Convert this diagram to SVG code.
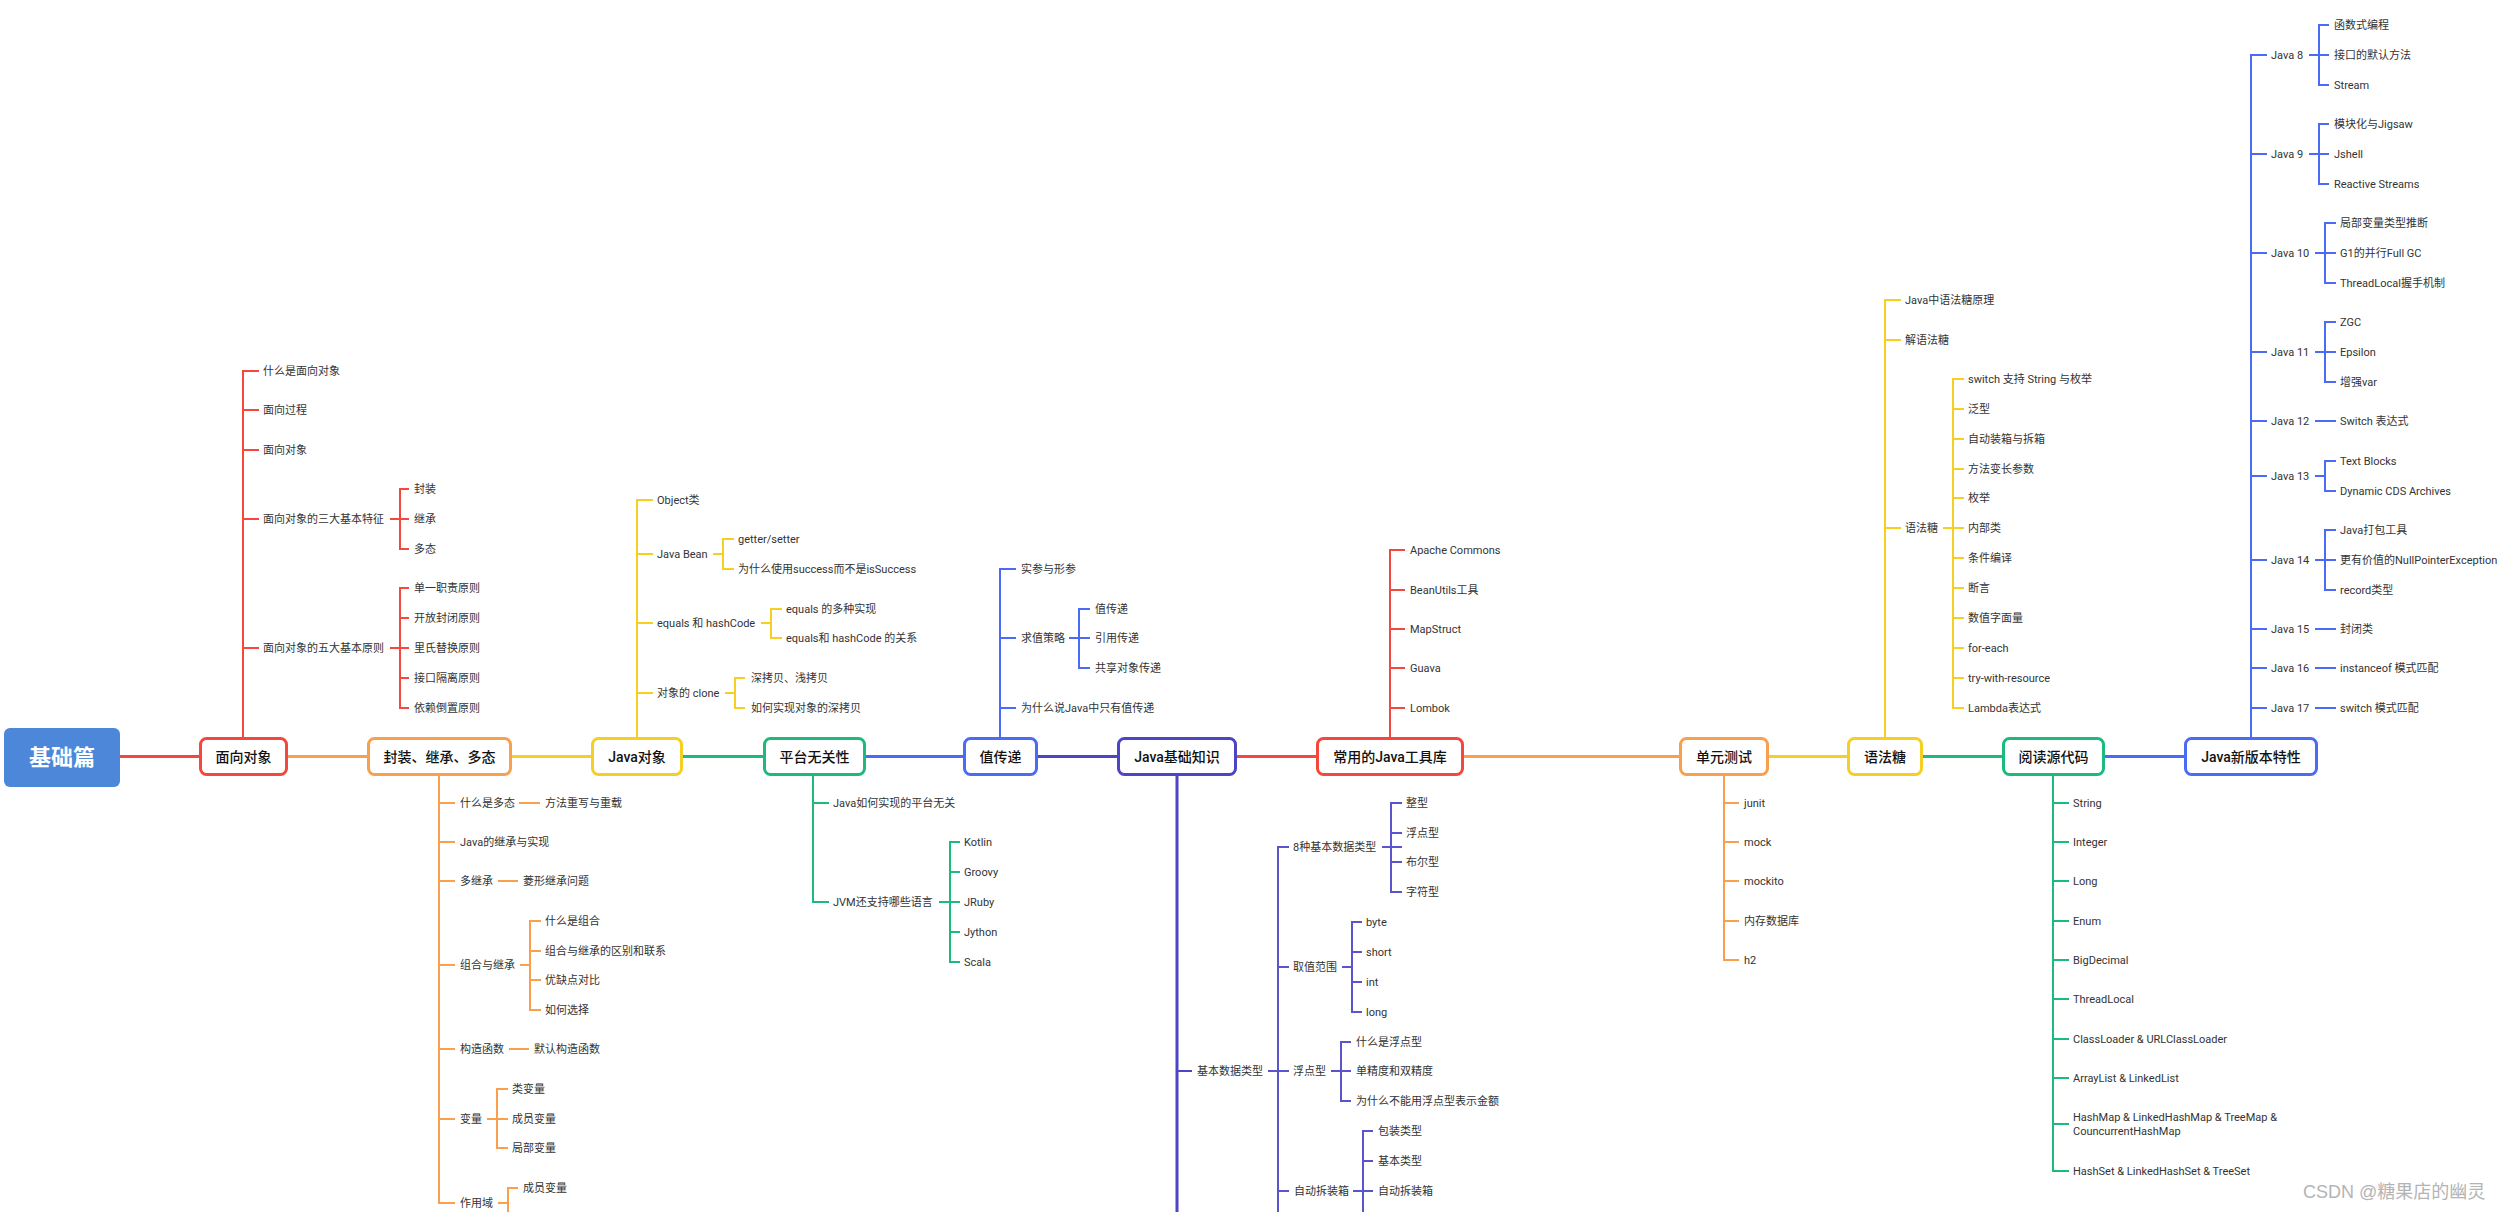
<svg xmlns="http://www.w3.org/2000/svg" width="2508" height="1212" viewBox="0 0 2508 1212">
<style>
.t{font-family:Roboto,"Noto Sans CJK SC",sans-serif;font-size:11px;fill:#333;dominant-baseline:central}
.n{font-family:Roboto,"Noto Sans CJK SC",sans-serif;font-size:14px;font-weight:500;fill:#111;dominant-baseline:central;text-anchor:middle}
.box{fill:#fff;stroke-width:3}
path,line{fill:none;stroke-width:2}
.sp{stroke-width:3}
.r{stroke:#F4473D}.o{stroke:#F8A04C}.y{stroke:#F5CF23}.g{stroke:#1CBB7D}.b{stroke:#4B6BF6}.p{stroke:#4D45C4}.p2{stroke:#5B54CC}
</style>
<rect width="2508" height="1212" fill="#fff"/>
<g id="connectors">
<path class="sp r" d="M120 756.5H199"/>
<path class="sp o" d="M288 756.5H367"/>
<path class="sp y" d="M512 756.5H591"/>
<path class="sp g" d="M683 756.5H763"/>
<path class="sp b" d="M866 756.5H963"/>
<path class="sp p" d="M1038 756.5H1117"/>
<path class="sp r" d="M1237 756.5H1316"/>
<path class="sp o" d="M1464 756.5H1679"/>
<path class="sp y" d="M1769 756.5H1847"/>
<path class="sp g" d="M1923 756.5H2002"/>
<path class="sp b" d="M2105 756.5H2184"/>
<path class="r" d="M243 737V371H259M243 410H259M243 450H259M243 519H259M243 648H259"/>
<path class="r" d="M390 519H409M409 489H400V549H409"/>
<path class="r" d="M390 648H409M409 588H400V708H409M400 618H409M400 678H409"/>
<path class="o" d="M439 776V1203H455M439 803H455M439 842H455M439 881H455M439 965H455M439 1049H455M439 1119H455"/>
<path class="o" d="M519 803H540M498 881H518M509 1049H529"/>
<path class="o" d="M520 965H530M541 921H530V1010H541M530 951H541M530 980H541"/>
<path class="o" d="M487 1119H508M508 1089H497V1148H508"/>
<path class="o" d="M498 1203H508M518 1188H508V1215"/>
<path class="y" d="M637 737V500H653M637 554H653M637 623H653M637 693H653"/>
<path class="y" d="M713 554H723M734 539H723V569H734"/>
<path class="y" d="M761 623H771M782 609H771V638H782"/>
<path class="y" d="M725 693H735M745 678H735V708H745"/>
<path class="g" d="M813 776V902H829M813 803H829"/>
<path class="g" d="M939 902H960M960 842H950V962H960M950 872H960M950 932H960"/>
<path class="b" d="M1000 737V569H1016M1000 638H1016M1000 708H1016"/>
<path class="b" d="M1069 638H1090M1090 609H1079V668H1090"/>
<path class="sp p" d="M1177 776V1215"/>
<path class="p" d="M1177 1071H1192"/>
<path class="p2" d="M1268 1071H1289M1289 847H1278V1215M1278 967H1289M1278 1191H1289"/>
<path class="p2" d="M1382 847H1402M1402 803H1391V892H1402M1391 833H1402M1391 862H1402"/>
<path class="p2" d="M1342 967H1352M1362 922H1352V1012H1362M1352 952H1362M1352 982H1362"/>
<path class="p2" d="M1331 1071H1351M1351 1042H1341V1101H1351"/>
<path class="p2" d="M1353 1191H1373M1373 1131H1363V1215M1363 1161H1373"/>
<path class="r" d="M1390 737V550H1405M1390 590H1405M1390 629H1405M1390 668H1405M1390 708H1405"/>
<path class="o" d="M1724 776V960H1739M1724 803H1739M1724 842H1739M1724 881H1739M1724 921H1739"/>
<path class="y" d="M1885 737V300H1901M1885 340H1901M1885 528H1901"/>
<path class="y" d="M1943 528H1964M1964 379H1953V708H1964M1953 409H1964M1953 439H1964M1953 469H1964M1953 498H1964M1953 558H1964M1953 588H1964M1953 618H1964M1953 648H1964M1953 678H1964"/>
<path class="g" d="M2053 776V1171H2069M2053 803H2069M2053 842H2069M2053 881H2069M2053 921H2069M2053 960H2069M2053 999H2069M2053 1039H2069M2053 1078H2069M2053 1124H2069"/>
<path class="b" d="M2251 737V55H2267M2251 154H2267M2251 253H2267M2251 352H2267M2251 421H2267M2251 476H2267M2251 560H2267M2251 629H2267M2251 668H2267M2251 708H2267"/>
<path class="b" d="M2309 55H2329M2329 25H2319V85H2329"/>
<path class="b" d="M2309 154H2329M2329 124H2319V184H2329"/>
<path class="b" d="M2315 253H2336M2336 223H2325V283H2336"/>
<path class="b" d="M2315 352H2336M2336 322H2325V382H2336"/>
<path class="b" d="M2315 421H2336"/>
<path class="b" d="M2315 476H2325M2336 461H2325V491H2336"/>
<path class="b" d="M2315 560H2336M2336 530H2325V590H2336"/>
<path class="b" d="M2315 629H2336M2315 668H2336M2315 708H2336"/>
</g>
<g id="root"><rect x="4" y="728" width="116" height="59" rx="6" fill="#4C87D9"/><text x="62" y="757.5" style="font-family:Roboto,'Noto Sans CJK SC',sans-serif;font-size:22px;font-weight:bold;fill:#fff;dominant-baseline:central;text-anchor:middle">基础篇</text></g>
<g id="oop"><rect class="box r" x="200.5" y="738.5" width="86" height="36" rx="6"/><text class="n" x="243.5" y="756.5">面向对象</text></g>
<g id="encap"><rect class="box o" x="368.5" y="738.5" width="142" height="36" rx="6"/><text class="n" x="439.5" y="756.5">封装、继承、多态</text></g>
<g id="javaobj"><rect class="box y" x="592.5" y="738.5" width="89" height="36" rx="6"/><text class="n" x="637" y="756.5">Java对象</text></g>
<g id="platform"><rect class="box g" x="764.5" y="738.5" width="100" height="36" rx="6"/><text class="n" x="814.5" y="756.5">平台无关性</text></g>
<g id="passval"><rect class="box b" x="964.5" y="738.5" width="72" height="36" rx="6"/><text class="n" x="1000.5" y="756.5">值传递</text></g>
<g id="basics"><rect class="box p" x="1118.5" y="738.5" width="117" height="36" rx="6"/><text class="n" x="1177" y="756.5">Java基础知识</text></g>
<g id="tools"><rect class="box r" x="1317.5" y="738.5" width="145" height="36" rx="6"/><text class="n" x="1390" y="756.5">常用的Java工具库</text></g>
<g id="unittest"><rect class="box o" x="1680.5" y="738.5" width="87" height="36" rx="6"/><text class="n" x="1724" y="756.5">单元测试</text></g>
<g id="sugar"><rect class="box y" x="1848.5" y="738.5" width="73" height="36" rx="6"/><text class="n" x="1885" y="756.5">语法糖</text></g>
<g id="source"><rect class="box g" x="2003.5" y="738.5" width="100" height="36" rx="6"/><text class="n" x="2053.5" y="756.5">阅读源代码</text></g>
<g id="newjava"><rect class="box b" x="2185.5" y="738.5" width="131" height="36" rx="6"/><text class="n" x="2251" y="756.5">Java新版本特性</text></g>
<g id="oop-1"><text class="t" x="263" y="371">什么是面向对象</text></g>
<g id="oop-2"><text class="t" x="263" y="410">面向过程</text></g>
<g id="oop-3"><text class="t" x="263" y="450">面向对象</text></g>
<g id="oop-4"><text class="t" x="263" y="519">面向对象的三大基本特征</text></g>
<g id="oop-4a"><text class="t" x="414" y="489">封装</text></g>
<g id="oop-4b"><text class="t" x="414" y="519">继承</text></g>
<g id="oop-4c"><text class="t" x="414" y="549">多态</text></g>
<g id="oop-5"><text class="t" x="263" y="648">面向对象的五大基本原则</text></g>
<g id="oop-5a"><text class="t" x="414" y="588">单一职责原则</text></g>
<g id="oop-5b"><text class="t" x="414" y="618">开放封闭原则</text></g>
<g id="oop-5c"><text class="t" x="414" y="648">里氏替换原则</text></g>
<g id="oop-5d"><text class="t" x="414" y="678">接口隔离原则</text></g>
<g id="oop-5e"><text class="t" x="414" y="708">依赖倒置原则</text></g>
<g id="enc-1"><text class="t" x="460" y="803">什么是多态</text></g>
<g id="enc-1a"><text class="t" x="545" y="803">方法重写与重载</text></g>
<g id="enc-2"><text class="t" x="460" y="842">Java的继承与实现</text></g>
<g id="enc-3"><text class="t" x="460" y="881">多继承</text></g>
<g id="enc-3a"><text class="t" x="523" y="881">菱形继承问题</text></g>
<g id="enc-4"><text class="t" x="460" y="965">组合与继承</text></g>
<g id="enc-4a"><text class="t" x="545" y="921">什么是组合</text></g>
<g id="enc-4b"><text class="t" x="545" y="951">组合与继承的区别和联系</text></g>
<g id="enc-4c"><text class="t" x="545" y="980">优缺点对比</text></g>
<g id="enc-4d"><text class="t" x="545" y="1010">如何选择</text></g>
<g id="enc-5"><text class="t" x="460" y="1049">构造函数</text></g>
<g id="enc-5a"><text class="t" x="534" y="1049">默认构造函数</text></g>
<g id="enc-6"><text class="t" x="460" y="1119">变量</text></g>
<g id="enc-6a"><text class="t" x="512" y="1089">类变量</text></g>
<g id="enc-6b"><text class="t" x="512" y="1119">成员变量</text></g>
<g id="enc-6c"><text class="t" x="512" y="1148">局部变量</text></g>
<g id="enc-7"><text class="t" x="460" y="1203">作用域</text></g>
<g id="enc-7a"><text class="t" x="523" y="1188">成员变量</text></g>
<g id="jo-1"><text class="t" x="657" y="500">Object类</text></g>
<g id="jo-2"><text class="t" x="657" y="554">Java Bean</text></g>
<g id="jo-2a"><text class="t" x="738" y="539">getter/setter</text></g>
<g id="jo-2b"><text class="t" x="738" y="569">为什么使用success而不是isSuccess</text></g>
<g id="jo-3"><text class="t" x="657" y="623">equals 和 hashCode</text></g>
<g id="jo-3a"><text class="t" x="786" y="609">equals 的多种实现</text></g>
<g id="jo-3b"><text class="t" x="786" y="638">equals和 hashCode 的关系</text></g>
<g id="jo-4"><text class="t" x="657" y="693">对象的 clone</text></g>
<g id="jo-4a"><text class="t" x="751" y="678">深拷贝、浅拷贝</text></g>
<g id="jo-4b"><text class="t" x="751" y="708">如何实现对象的深拷贝</text></g>
<g id="pf-1"><text class="t" x="833" y="803">Java如何实现的平台无关</text></g>
<g id="pf-2"><text class="t" x="833" y="902">JVM还支持哪些语言</text></g>
<g id="pf-2a"><text class="t" x="964" y="842">Kotlin</text></g>
<g id="pf-2b"><text class="t" x="964" y="872">Groovy</text></g>
<g id="pf-2c"><text class="t" x="964" y="902">JRuby</text></g>
<g id="pf-2d"><text class="t" x="964" y="932">Jython</text></g>
<g id="pf-2e"><text class="t" x="964" y="962">Scala</text></g>
<g id="pv-1"><text class="t" x="1021" y="569">实参与形参</text></g>
<g id="pv-2"><text class="t" x="1021" y="638">求值策略</text></g>
<g id="pv-2a"><text class="t" x="1095" y="609">值传递</text></g>
<g id="pv-2b"><text class="t" x="1095" y="638">引用传递</text></g>
<g id="pv-2c"><text class="t" x="1095" y="668">共享对象传递</text></g>
<g id="pv-3"><text class="t" x="1021" y="708">为什么说Java中只有值传递</text></g>
<g id="bs-1"><text class="t" x="1197" y="1071">基本数据类型</text></g>
<g id="bs-1a"><text class="t" x="1293" y="847">8种基本数据类型</text></g>
<g id="bs-1a1"><text class="t" x="1406" y="803">整型</text></g>
<g id="bs-1a2"><text class="t" x="1406" y="833">浮点型</text></g>
<g id="bs-1a3"><text class="t" x="1406" y="862">布尔型</text></g>
<g id="bs-1a4"><text class="t" x="1406" y="892">字符型</text></g>
<g id="bs-1b"><text class="t" x="1293" y="967">取值范围</text></g>
<g id="bs-1b1"><text class="t" x="1366" y="922">byte</text></g>
<g id="bs-1b2"><text class="t" x="1366" y="952">short</text></g>
<g id="bs-1b3"><text class="t" x="1366" y="982">int</text></g>
<g id="bs-1b4"><text class="t" x="1366" y="1012">long</text></g>
<g id="bs-1c"><text class="t" x="1293" y="1071">浮点型</text></g>
<g id="bs-1c1"><text class="t" x="1356" y="1042">什么是浮点型</text></g>
<g id="bs-1c2"><text class="t" x="1356" y="1071">单精度和双精度</text></g>
<g id="bs-1c3"><text class="t" x="1356" y="1101">为什么不能用浮点型表示金额</text></g>
<g id="bs-1d"><text class="t" x="1294" y="1191">自动拆装箱</text></g>
<g id="bs-1d1"><text class="t" x="1378" y="1131">包装类型</text></g>
<g id="bs-1d2"><text class="t" x="1378" y="1161">基本类型</text></g>
<g id="bs-1d3"><text class="t" x="1378" y="1191">自动拆装箱</text></g>
<g id="tl-1"><text class="t" x="1410" y="550">Apache Commons</text></g>
<g id="tl-2"><text class="t" x="1410" y="590">BeanUtils工具</text></g>
<g id="tl-3"><text class="t" x="1410" y="629">MapStruct</text></g>
<g id="tl-4"><text class="t" x="1410" y="668">Guava</text></g>
<g id="tl-5"><text class="t" x="1410" y="708">Lombok</text></g>
<g id="ut-1"><text class="t" x="1744" y="803">junit</text></g>
<g id="ut-2"><text class="t" x="1744" y="842">mock</text></g>
<g id="ut-3"><text class="t" x="1744" y="881">mockito</text></g>
<g id="ut-4"><text class="t" x="1744" y="921">内存数据库</text></g>
<g id="ut-5"><text class="t" x="1744" y="960">h2</text></g>
<g id="sg-1"><text class="t" x="1905" y="300">Java中语法糖原理</text></g>
<g id="sg-2"><text class="t" x="1905" y="340">解语法糖</text></g>
<g id="sg-3"><text class="t" x="1905" y="528">语法糖</text></g>
<g id="sg-3a"><text class="t" x="1968" y="379">switch 支持 String 与枚举</text></g>
<g id="sg-3b"><text class="t" x="1968" y="409">泛型</text></g>
<g id="sg-3c"><text class="t" x="1968" y="439">自动装箱与拆箱</text></g>
<g id="sg-3d"><text class="t" x="1968" y="469">方法变长参数</text></g>
<g id="sg-3e"><text class="t" x="1968" y="498">枚举</text></g>
<g id="sg-3f"><text class="t" x="1968" y="528">内部类</text></g>
<g id="sg-3g"><text class="t" x="1968" y="558">条件编译</text></g>
<g id="sg-3h"><text class="t" x="1968" y="588">断言</text></g>
<g id="sg-3i"><text class="t" x="1968" y="618">数值字面量</text></g>
<g id="sg-3j"><text class="t" x="1968" y="648">for-each</text></g>
<g id="sg-3k"><text class="t" x="1968" y="678">try-with-resource</text></g>
<g id="sg-3l"><text class="t" x="1968" y="708">Lambda表达式</text></g>
<g id="src-1"><text class="t" x="2073" y="803">String</text></g>
<g id="src-2"><text class="t" x="2073" y="842">Integer</text></g>
<g id="src-3"><text class="t" x="2073" y="881">Long</text></g>
<g id="src-4"><text class="t" x="2073" y="921">Enum</text></g>
<g id="src-5"><text class="t" x="2073" y="960">BigDecimal</text></g>
<g id="src-6"><text class="t" x="2073" y="999">ThreadLocal</text></g>
<g id="src-7"><text class="t" x="2073" y="1039">ClassLoader &amp; URLClassLoader</text></g>
<g id="src-8"><text class="t" x="2073" y="1078">ArrayList &amp; LinkedList</text></g>
<g id="src-9"><text class="t" x="2073" y="1117">HashMap &amp; LinkedHashMap &amp; TreeMap &amp;</text><text class="t" x="2073" y="1131">CouncurrentHashMap</text></g>
<g id="src-10"><text class="t" x="2073" y="1171">HashSet &amp; LinkedHashSet &amp; TreeSet</text></g>
<g id="nj-8"><text class="t" x="2271" y="55">Java 8</text></g>
<g id="nj-8a"><text class="t" x="2334" y="25">函数式编程</text></g>
<g id="nj-8b"><text class="t" x="2334" y="55">接口的默认方法</text></g>
<g id="nj-8c"><text class="t" x="2334" y="85">Stream</text></g>
<g id="nj-9"><text class="t" x="2271" y="154">Java 9</text></g>
<g id="nj-9a"><text class="t" x="2334" y="124">模块化与Jigsaw</text></g>
<g id="nj-9b"><text class="t" x="2334" y="154">Jshell</text></g>
<g id="nj-9c"><text class="t" x="2334" y="184">Reactive Streams</text></g>
<g id="nj-10"><text class="t" x="2271" y="253">Java 10</text></g>
<g id="nj-10a"><text class="t" x="2340" y="223">局部变量类型推断</text></g>
<g id="nj-10b"><text class="t" x="2340" y="253">G1的并行Full GC</text></g>
<g id="nj-10c"><text class="t" x="2340" y="283">ThreadLocal握手机制</text></g>
<g id="nj-11"><text class="t" x="2271" y="352">Java 11</text></g>
<g id="nj-11a"><text class="t" x="2340" y="322">ZGC</text></g>
<g id="nj-11b"><text class="t" x="2340" y="352">Epsilon</text></g>
<g id="nj-11c"><text class="t" x="2340" y="382">增强var</text></g>
<g id="nj-12"><text class="t" x="2271" y="421">Java 12</text></g>
<g id="nj-12a"><text class="t" x="2340" y="421">Switch 表达式</text></g>
<g id="nj-13"><text class="t" x="2271" y="476">Java 13</text></g>
<g id="nj-13a"><text class="t" x="2340" y="461">Text Blocks</text></g>
<g id="nj-13b"><text class="t" x="2340" y="491">Dynamic CDS Archives</text></g>
<g id="nj-14"><text class="t" x="2271" y="560">Java 14</text></g>
<g id="nj-14a"><text class="t" x="2340" y="530">Java打包工具</text></g>
<g id="nj-14b"><text class="t" x="2340" y="560">更有价值的NullPointerException</text></g>
<g id="nj-14c"><text class="t" x="2340" y="590">record类型</text></g>
<g id="nj-15"><text class="t" x="2271" y="629">Java 15</text></g>
<g id="nj-15a"><text class="t" x="2340" y="629">封闭类</text></g>
<g id="nj-16"><text class="t" x="2271" y="668">Java 16</text></g>
<g id="nj-16a"><text class="t" x="2340" y="668">instanceof 模式匹配</text></g>
<g id="nj-17"><text class="t" x="2271" y="708">Java 17</text></g>
<g id="nj-17a"><text class="t" x="2340" y="708">switch 模式匹配</text></g>
<text x="2303" y="1198" style="font-family:'Liberation Sans','Noto Sans CJK SC',sans-serif;font-size:18px;fill:#b4b4b4">CSDN @糖果店的幽灵</text>
</svg>
